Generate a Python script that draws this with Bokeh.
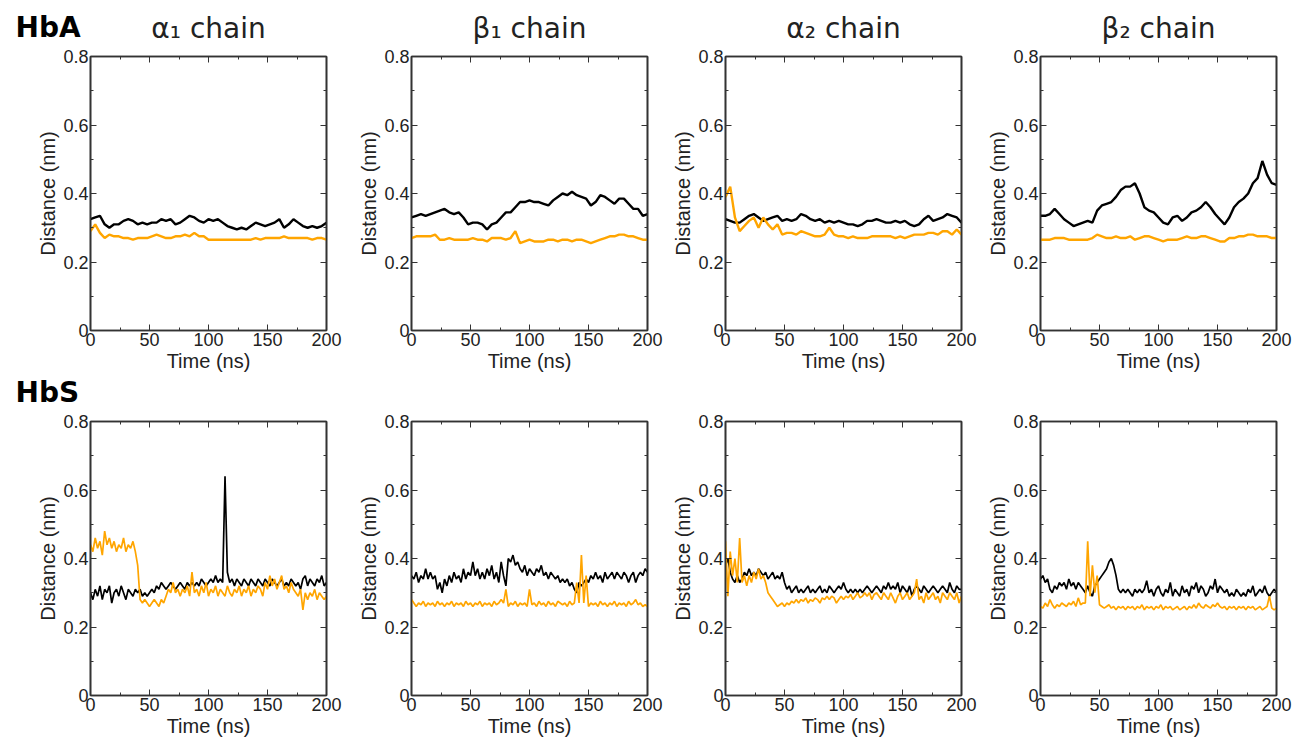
import numpy as np
from bokeh.plotting import figure
from bokeh.models import Range1d, LinearAxis, FixedTicker
from bokeh.core.properties import value
from bokeh.layouts import row, column
from bokeh.embed import file_html
from bokeh.resources import INLINE

# ---------------- data ----------------
groups = ["HbA", "HbS"]
chains = ["α₁ chain", "β₁ chain", "α₂ chain", "β₂ chain"]
x_ticks = [0, 50, 100, 150, 200]
x_minor = [25, 75, 125, 175]
y_ticks = [0, 0.2, 0.4, 0.6, 0.8]
y_minor = [0.1, 0.3, 0.5, 0.7]
y_labels = ["0", "0.2", "0.4", "0.6", "0.8"]

# HbA (sampled every 4 ns, 0..200)
hba_a1_black = [0.325,0.33,0.335,0.31,0.30,0.31,0.31,0.32,0.325,0.32,0.31,0.315,0.31,0.315,0.315,0.325,0.32,0.325,0.31,0.315,0.325,0.335,0.33,0.32,0.315,0.325,0.32,0.325,0.315,0.305,0.30,0.295,0.30,0.295,0.305,0.315,0.31,0.305,0.31,0.315,0.325,0.30,0.31,0.325,0.315,0.305,0.30,0.305,0.30,0.305,0.315]
hba_a1_orange = [0.29,0.31,0.285,0.27,0.28,0.275,0.275,0.27,0.27,0.265,0.27,0.27,0.27,0.275,0.28,0.275,0.27,0.27,0.275,0.275,0.28,0.275,0.285,0.275,0.275,0.265,0.265,0.265,0.265,0.265,0.265,0.265,0.265,0.265,0.265,0.27,0.265,0.27,0.27,0.27,0.27,0.275,0.27,0.27,0.27,0.27,0.27,0.265,0.27,0.27,0.265]
hba_b1_black = [0.33,0.335,0.34,0.335,0.34,0.345,0.35,0.355,0.345,0.34,0.345,0.33,0.31,0.315,0.315,0.31,0.295,0.31,0.315,0.33,0.345,0.345,0.36,0.375,0.375,0.38,0.375,0.375,0.37,0.365,0.38,0.39,0.40,0.395,0.405,0.395,0.39,0.385,0.365,0.375,0.395,0.39,0.38,0.37,0.385,0.385,0.37,0.355,0.355,0.335,0.34]
hba_b1_orange = [0.27,0.275,0.275,0.275,0.275,0.28,0.265,0.265,0.27,0.265,0.265,0.265,0.265,0.27,0.265,0.265,0.26,0.27,0.27,0.27,0.265,0.27,0.29,0.255,0.26,0.265,0.26,0.26,0.26,0.265,0.265,0.26,0.265,0.265,0.26,0.265,0.265,0.26,0.255,0.26,0.265,0.27,0.275,0.275,0.28,0.28,0.275,0.275,0.27,0.265,0.265]
hba_a2_black = [0.325,0.32,0.315,0.315,0.325,0.335,0.34,0.33,0.32,0.325,0.33,0.335,0.32,0.325,0.32,0.325,0.34,0.335,0.325,0.32,0.325,0.315,0.32,0.315,0.32,0.315,0.31,0.31,0.305,0.31,0.32,0.32,0.325,0.32,0.315,0.315,0.32,0.315,0.32,0.31,0.305,0.31,0.325,0.335,0.32,0.325,0.33,0.34,0.335,0.33,0.315]
hba_a2_orange = [0.39,0.42,0.33,0.29,0.305,0.32,0.33,0.30,0.33,0.31,0.295,0.31,0.28,0.285,0.285,0.28,0.29,0.285,0.28,0.275,0.275,0.28,0.30,0.28,0.275,0.275,0.27,0.275,0.27,0.27,0.27,0.275,0.275,0.275,0.275,0.275,0.27,0.275,0.27,0.275,0.28,0.28,0.28,0.285,0.285,0.28,0.29,0.29,0.28,0.295,0.28]
hba_b2_black = [0.335,0.335,0.34,0.355,0.34,0.325,0.315,0.305,0.31,0.315,0.32,0.315,0.35,0.365,0.37,0.375,0.39,0.41,0.42,0.42,0.43,0.40,0.36,0.35,0.345,0.33,0.315,0.31,0.33,0.335,0.32,0.33,0.345,0.35,0.36,0.375,0.36,0.34,0.325,0.31,0.33,0.36,0.375,0.385,0.40,0.43,0.445,0.495,0.455,0.43,0.425]
hba_b2_orange = [0.265,0.265,0.265,0.27,0.27,0.27,0.265,0.265,0.265,0.265,0.265,0.27,0.28,0.275,0.27,0.27,0.275,0.27,0.27,0.275,0.265,0.27,0.275,0.275,0.27,0.265,0.26,0.265,0.265,0.265,0.27,0.275,0.27,0.27,0.275,0.275,0.27,0.265,0.26,0.26,0.27,0.27,0.275,0.275,0.28,0.28,0.275,0.275,0.275,0.27,0.27]

# HbS (sampled every 2 ns, 0..200)
hbs_a1_black = [0.30,0.28,0.31,0.29,0.32,0.28,0.31,0.30,0.32,0.27,0.30,0.31,0.29,0.32,0.30,0.28,0.31,0.30,0.29,0.31,0.30,0.31,0.29,0.30,0.29,0.30,0.31,0.30,0.32,0.31,0.33,0.32,0.31,0.32,0.33,0.32,0.31,0.32,0.33,0.32,0.31,0.33,0.32,0.33,0.32,0.33,0.32,0.34,0.33,0.32,0.33,0.34,0.33,0.35,0.33,0.34,0.33,0.64,0.36,0.33,0.34,0.32,0.34,0.33,0.32,0.34,0.33,0.32,0.34,0.33,0.32,0.34,0.33,0.32,0.34,0.33,0.32,0.34,0.33,0.32,0.33,0.34,0.32,0.33,0.32,0.34,0.33,0.32,0.33,0.31,0.34,0.35,0.32,0.34,0.33,0.32,0.34,0.33,0.35,0.32,0.33]
hbs_a1_orange = [0.44,0.42,0.46,0.43,0.45,0.41,0.48,0.44,0.46,0.43,0.45,0.42,0.44,0.43,0.46,0.42,0.44,0.43,0.45,0.42,0.38,0.28,0.27,0.28,0.27,0.26,0.27,0.28,0.27,0.26,0.28,0.27,0.29,0.31,0.30,0.33,0.30,0.31,0.29,0.31,0.30,0.32,0.29,0.36,0.30,0.31,0.29,0.32,0.30,0.33,0.29,0.31,0.30,0.32,0.29,0.31,0.30,0.29,0.32,0.30,0.29,0.31,0.30,0.32,0.29,0.31,0.30,0.32,0.29,0.31,0.30,0.32,0.31,0.29,0.33,0.31,0.35,0.32,0.34,0.31,0.33,0.35,0.31,0.32,0.30,0.33,0.31,0.30,0.29,0.31,0.25,0.30,0.28,0.30,0.29,0.31,0.28,0.30,0.29,0.28,0.29]
hbs_b1_black = [0.35,0.34,0.36,0.33,0.35,0.34,0.37,0.34,0.36,0.34,0.35,0.31,0.33,0.30,0.34,0.32,0.35,0.33,0.36,0.34,0.35,0.33,0.37,0.34,0.36,0.35,0.39,0.35,0.37,0.34,0.36,0.34,0.37,0.35,0.38,0.34,0.36,0.33,0.39,0.35,0.32,0.40,0.39,0.41,0.38,0.39,0.37,0.36,0.38,0.35,0.37,0.36,0.35,0.37,0.36,0.38,0.35,0.36,0.34,0.36,0.35,0.34,0.35,0.33,0.34,0.33,0.34,0.32,0.33,0.31,0.30,0.33,0.32,0.33,0.34,0.33,0.35,0.34,0.36,0.34,0.35,0.33,0.36,0.34,0.35,0.36,0.34,0.36,0.35,0.34,0.36,0.35,0.33,0.35,0.36,0.33,0.35,0.36,0.35,0.37,0.36]
hbs_b1_orange = [0.28,0.27,0.26,0.27,0.265,0.275,0.26,0.27,0.265,0.27,0.26,0.275,0.265,0.27,0.26,0.27,0.265,0.275,0.26,0.27,0.265,0.27,0.26,0.275,0.265,0.27,0.26,0.27,0.265,0.275,0.26,0.27,0.265,0.27,0.26,0.275,0.265,0.27,0.28,0.27,0.31,0.26,0.27,0.265,0.275,0.26,0.27,0.265,0.27,0.26,0.31,0.265,0.27,0.26,0.275,0.265,0.27,0.26,0.275,0.265,0.27,0.26,0.275,0.27,0.265,0.27,0.26,0.275,0.265,0.27,0.33,0.27,0.41,0.27,0.35,0.26,0.27,0.265,0.27,0.26,0.275,0.265,0.27,0.26,0.27,0.265,0.275,0.26,0.27,0.265,0.27,0.26,0.275,0.265,0.27,0.28,0.265,0.27,0.26,0.265,0.26]
hbs_a2_black = [0.38,0.40,0.36,0.34,0.33,0.35,0.33,0.34,0.36,0.35,0.37,0.35,0.36,0.35,0.37,0.36,0.35,0.36,0.34,0.35,0.36,0.34,0.35,0.34,0.36,0.33,0.31,0.32,0.30,0.31,0.32,0.30,0.31,0.30,0.31,0.32,0.30,0.31,0.30,0.31,0.32,0.30,0.31,0.30,0.32,0.31,0.30,0.31,0.32,0.31,0.33,0.31,0.30,0.31,0.30,0.31,0.30,0.31,0.30,0.31,0.32,0.31,0.30,0.31,0.32,0.31,0.30,0.32,0.31,0.33,0.31,0.32,0.31,0.33,0.30,0.32,0.31,0.30,0.32,0.29,0.31,0.32,0.31,0.30,0.32,0.31,0.30,0.31,0.32,0.31,0.30,0.31,0.32,0.31,0.30,0.33,0.31,0.30,0.32,0.31,0.31]
hbs_a2_orange = [0.45,0.29,0.42,0.35,0.40,0.33,0.46,0.33,0.35,0.32,0.35,0.33,0.36,0.34,0.37,0.34,0.35,0.33,0.30,0.29,0.28,0.27,0.26,0.265,0.27,0.26,0.27,0.265,0.275,0.27,0.28,0.27,0.28,0.275,0.285,0.27,0.28,0.275,0.285,0.28,0.27,0.285,0.28,0.29,0.28,0.29,0.285,0.27,0.28,0.29,0.28,0.29,0.285,0.295,0.28,0.29,0.30,0.285,0.29,0.30,0.29,0.30,0.28,0.295,0.30,0.29,0.28,0.30,0.29,0.28,0.30,0.285,0.27,0.29,0.30,0.28,0.29,0.30,0.28,0.29,0.30,0.34,0.28,0.29,0.27,0.30,0.28,0.29,0.30,0.28,0.29,0.27,0.30,0.29,0.28,0.30,0.29,0.28,0.30,0.27,0.29]
hbs_b2_black = [0.34,0.35,0.33,0.34,0.31,0.30,0.32,0.31,0.33,0.32,0.33,0.31,0.34,0.32,0.33,0.31,0.33,0.32,0.31,0.30,0.32,0.30,0.29,0.32,0.33,0.34,0.35,0.36,0.37,0.39,0.40,0.38,0.35,0.31,0.30,0.31,0.30,0.31,0.30,0.29,0.31,0.30,0.31,0.30,0.31,0.335,0.30,0.31,0.29,0.31,0.32,0.30,0.29,0.31,0.30,0.33,0.29,0.31,0.30,0.29,0.32,0.30,0.31,0.29,0.32,0.31,0.33,0.30,0.32,0.31,0.29,0.30,0.32,0.31,0.34,0.30,0.32,0.31,0.30,0.31,0.29,0.30,0.29,0.31,0.30,0.29,0.30,0.29,0.31,0.30,0.32,0.29,0.30,0.31,0.30,0.32,0.30,0.29,0.30,0.31,0.30]
hbs_b2_orange = [0.26,0.255,0.27,0.26,0.28,0.265,0.255,0.265,0.26,0.27,0.265,0.26,0.27,0.265,0.275,0.26,0.285,0.265,0.27,0.27,0.45,0.29,0.38,0.30,0.35,0.265,0.26,0.255,0.26,0.265,0.255,0.26,0.25,0.26,0.255,0.26,0.25,0.26,0.255,0.26,0.25,0.26,0.255,0.265,0.25,0.26,0.255,0.26,0.25,0.26,0.255,0.265,0.25,0.26,0.255,0.26,0.25,0.255,0.26,0.25,0.255,0.26,0.25,0.26,0.255,0.265,0.255,0.27,0.26,0.255,0.265,0.26,0.255,0.265,0.26,0.27,0.26,0.255,0.26,0.25,0.26,0.255,0.26,0.25,0.26,0.255,0.26,0.25,0.26,0.255,0.26,0.25,0.255,0.26,0.25,0.255,0.26,0.29,0.255,0.25,0.255]

series = {
    "HbA": [(hba_a1_black, hba_a1_orange), (hba_b1_black, hba_b1_orange),
            (hba_a2_black, hba_a2_orange), (hba_b2_black, hba_b2_orange)],
    "HbS": [(hbs_a1_black, hbs_a1_orange), (hbs_b1_black, hbs_b1_orange),
            (hbs_a2_black, hbs_a2_orange), (hbs_b2_black, hbs_b2_orange)],
}

# ---------------- style / layout ----------------
BLACK = "#000000"
ORANGE = "#FFA500"
AX = "#333333"
TICK_FONT = "Liberation Sans"
TITLE_FONT = "DejaVu Sans"

FRAME_W = 236
LEFTS = [90, 67, 60, 61]
RIGHT = 18
WIDTHS = [l + FRAME_W + RIGHT for l in LEFTS]
TOTAL_W = sum(WIDTHS)
COL_START = [sum(WIDTHS[:i]) for i in range(4)]
FRAME_CENTER = [COL_START[i] + LEFTS[i] + FRAME_W / 2 for i in range(4)]

rows_cfg = {
    "HbA": dict(header=45, top=11, frame=274, bottom=46, lw=2.4, tag_base=18, title_base=17.5),
    "HbS": dict(header=34, top=11, frame=274, bottom=46, lw=1.7, tag_base=18, title_base=None),
}


def style_axis(ax, show_labels, label=None):
    ax.axis_line_color = AX
    ax.axis_line_width = 1.6
    ax.major_tick_in = 6
    ax.major_tick_out = 0
    ax.minor_tick_in = 3
    ax.minor_tick_out = 0
    ax.major_tick_line_color = AX
    ax.minor_tick_line_color = AX
    ax.major_tick_line_width = 1
    ax.minor_tick_line_width = 1
    if show_labels:
        ax.major_label_text_font = TICK_FONT
        ax.major_label_text_font_size = "18px"
        ax.major_label_text_color = "#222222"
        ax.major_label_standoff = 2
        ax.axis_label = label
        ax.axis_label_text_font = TICK_FONT
        ax.axis_label_text_font_size = "20px"
        ax.axis_label_text_font_style = "normal"
        ax.axis_label_text_color = "#222222"
        ax.axis_label_standoff = 1
    else:
        ax.major_label_text_color = None
        ax.major_label_text_font_size = "1px"
        ax.major_label_standoff = 0
        ax.axis_label = None


def header(g, cfg):
    h = cfg["header"]
    p = figure(width=TOTAL_W, height=h, x_range=Range1d(0, TOTAL_W), y_range=Range1d(0, h),
               min_border=0, output_backend="svg", toolbar_location=None, tools="",
               x_axis_location=None, y_axis_location=None, title=None)
    p.grid.visible = False
    p.outline_line_color = None
    p.text(x=[15], y=[cfg["tag_base"]], text=[g], text_font=value(TITLE_FONT),
           text_font_size=value("28px"), text_font_style="bold", text_color="#000000",
           text_align="left", text_baseline="alphabetic")
    if cfg["title_base"] is not None:
        p.text(x=FRAME_CENTER, y=[cfg["title_base"]] * 4, text=chains, text_font=value(TITLE_FONT),
               text_font_size=value("28px"), text_color="#222222",
               text_align="center", text_baseline="alphabetic")
    return p


parts = []
for g in groups:
    cfg = rows_cfg[g]
    parts.append(header(g, cfg))
    figs = []
    for ci in range(4):
        left = LEFTS[ci]
        p = figure(width=WIDTHS[ci],
                   height=cfg["top"] + cfg["frame"] + cfg["bottom"],
                   min_border_left=left, min_border_right=RIGHT,
                   min_border_top=cfg["top"], min_border_bottom=cfg["bottom"],
                   x_range=Range1d(0, 200), y_range=Range1d(0, 0.8),
                   output_backend="svg", toolbar_location=None, tools="",
                   title=None)
        p.grid.visible = False
        p.outline_line_color = AX
        p.outline_line_width = 1.6
        p.background_fill_color = "white"
        p.border_fill_color = "white"

        p.xaxis.ticker = FixedTicker(ticks=x_ticks, minor_ticks=x_minor)
        p.yaxis.ticker = FixedTicker(ticks=y_ticks, minor_ticks=y_minor)
        p.yaxis.major_label_overrides = {v: s for v, s in zip(y_ticks, y_labels)}
        style_axis(p.xaxis[0], True, "Time (ns)")
        style_axis(p.yaxis[0], True, "Distance (nm)")

        top_ax = LinearAxis(ticker=FixedTicker(ticks=x_ticks, minor_ticks=x_minor))
        right_ax = LinearAxis(ticker=FixedTicker(ticks=y_ticks, minor_ticks=y_minor))
        style_axis(top_ax, False)
        style_axis(right_ax, False)
        p.add_layout(top_ax, "above")
        p.add_layout(right_ax, "right")

        yb, yo = series[g][ci]
        p.line(np.linspace(0, 200, len(yb)), yb, line_color=BLACK, line_width=cfg["lw"])
        p.line(np.linspace(0, 200, len(yo)), yo, line_color=ORANGE, line_width=cfg["lw"])
        figs.append(p)
    parts.append(row(*figs, spacing=0))

layout = column(*parts, spacing=0)
open("out.html", "w").write(file_html(layout, INLINE))
